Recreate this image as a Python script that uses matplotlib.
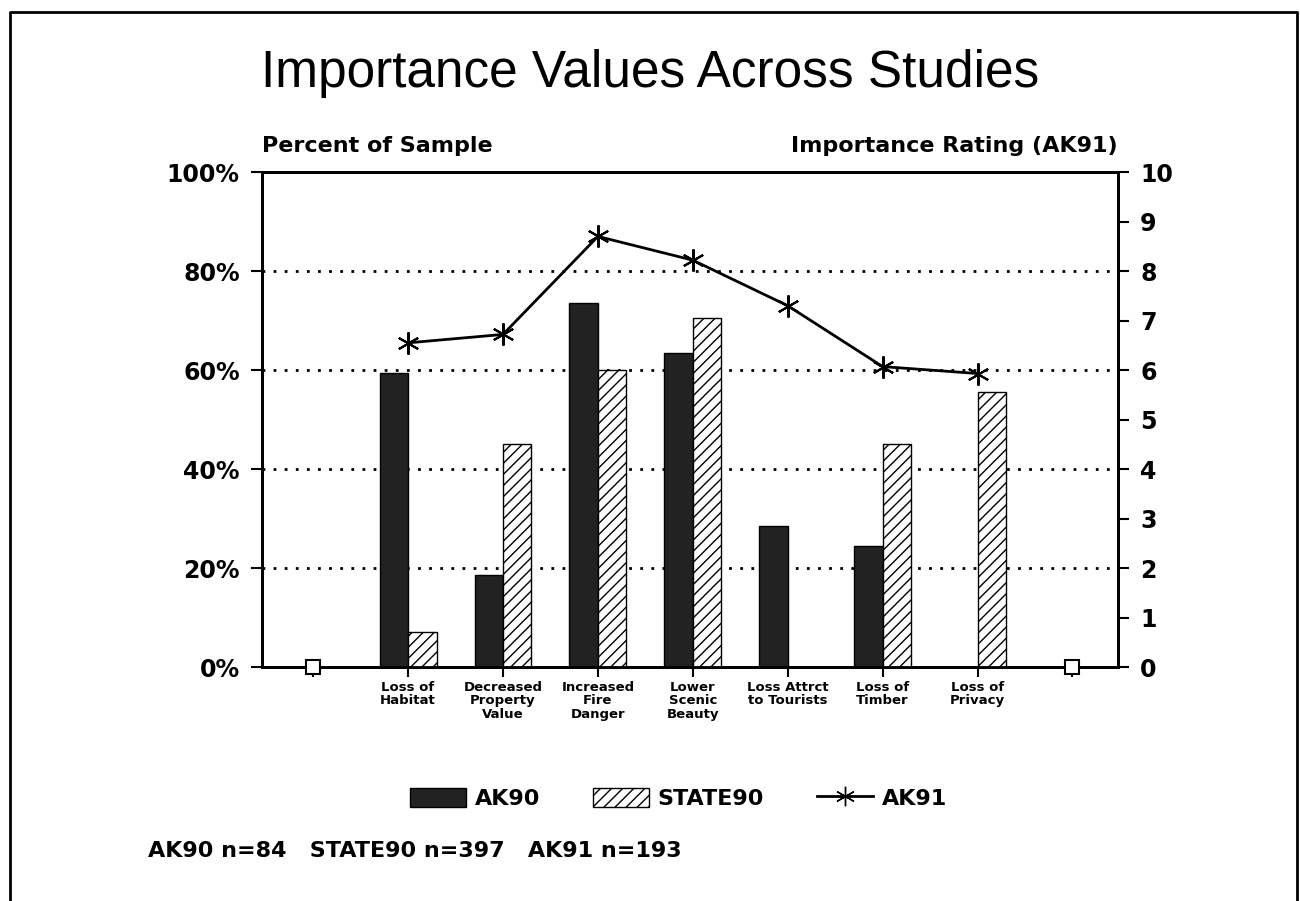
import matplotlib.pyplot as plt
import matplotlib.patches as mpatches
from matplotlib.lines import Line2D
import numpy as np

plt.rcParams['font.family'] = ['DejaVu Sans']

# categories (first and last slots are empty in the original)
categories = ['', 'Loss of\nHabitat', 'Decreased\nProperty\nValue', 'Increased\nFire\nDanger',
              'Lower\nScenic\nBeauty', 'Loss Attrct\nto Tourists', 'Loss of\nTimber',
              'Loss of\nPrivacy', '']
ak90 = [0, 59.5, 18.5, 73.5, 63.5, 28.5, 24.5, 0, 0]        # percent of sample
state90 = [0, 7, 45, 60, 70.5, 0, 45, 55.5, 0]              # percent of sample
ak91 = [None, 6.55, 6.72, 8.7, 8.22, 7.3, 6.07, 5.93, None]  # importance rating
ak91_ends = [0, None, None, None, None, None, None, None, 0]

x = np.arange(len(categories))
w = 0.3
dark = '#222222'

fig = plt.figure(figsize=(13, 9.01), dpi=100)
ax = fig.add_axes([0.2015, 0.2597, 0.6585, 0.5493])

ax.bar(x - w / 2, ak90, w, color=dark, edgecolor='black', linewidth=1, zorder=3)
ax.bar(x + w / 2, state90, w, color='white', edgecolor='black', hatch='///', linewidth=1, zorder=3)

ax.set_xlim(-0.54, 8.48)
ax.set_ylim(0, 100)
ax.set_yticks([0, 20, 40, 60, 80, 100])
ax.set_yticklabels(['0%', '20%', '40%', '60%', '80%', '100%'], fontsize=17, fontweight='bold')
ax.set_xticks(x)
ax.set_xticklabels(categories, fontsize=9.5, fontweight='bold', linespacing=1.05)
ax.tick_params(axis='x', length=7, width=1.5, pad=3)
ax.tick_params(axis='y', length=8, width=1.5, pad=8)
for y in [20, 40, 60, 80]:
    ax.axhline(y, color='black', linestyle=(0, (1, 3)), linewidth=2, zorder=1)
for s in ax.spines.values():
    s.set_linewidth(2)

ax2 = ax.twinx()
ax2.set_ylim(0, 10)
ax2.set_yticks(range(11))
ax2.set_yticklabels([str(i) for i in range(11)], fontsize=17, fontweight='bold')
ax2.tick_params(axis='y', length=8, width=1.5, pad=8)
xs = [i for i, v in enumerate(ak91) if v is not None]
ys = [v for v in ak91 if v is not None]
ax2.plot(xs, ys, color='black', linewidth=2, marker=(6, 2, 0), markersize=16, markeredgewidth=1.5, zorder=4)
xe = [i for i, v in enumerate(ak91_ends) if v is not None]
ye = [v for v in ak91_ends if v is not None]
ax2.plot(xe, ye, linestyle='none', marker='s', markersize=10, markerfacecolor='white',
         markeredgecolor='black', markeredgewidth=1.5, clip_on=False, zorder=5)
for s in ax2.spines.values():
    s.set_linewidth(2)

fig.text(0.5, 0.918, 'Importance Values Across Studies', ha='center', va='center', fontsize=37,
         family='Liberation Sans')
fig.text(0.2015, 0.838, 'Percent of Sample', ha='left', va='center', fontsize=16, fontweight='bold')
fig.text(0.86, 0.838, 'Importance Rating (AK91)', ha='right', va='center', fontsize=16, fontweight='bold')

handles = [mpatches.Patch(facecolor=dark, edgecolor='black'),
           mpatches.Patch(facecolor='white', edgecolor='black', hatch='///'),
           Line2D([], [], color='black', linewidth=2, marker=(6, 2, 0), markersize=14)]
fig.legend(handles, ['AK90', 'STATE90', 'AK91'], loc='center', bbox_to_anchor=(0.522, 0.114),
           ncol=3, frameon=False, prop={'size': 16, 'weight': 'bold'},
           handlelength=2.5, handleheight=1.0, columnspacing=2.4, handletextpad=0.4)

fig.text(0.114, 0.056, 'AK90 n=84   STATE90 n=397   AK91 n=193', ha='left', va='center',
         fontsize=16, fontweight='bold')

# page frame
frame = Line2D([0.008, 0.008, 0.998, 0.998], [0.0, 0.987, 0.987, 0.0],
               transform=fig.transFigure, color='black', linewidth=2)
fig.add_artist(frame)

fig.savefig('out.png', dpi=100)
